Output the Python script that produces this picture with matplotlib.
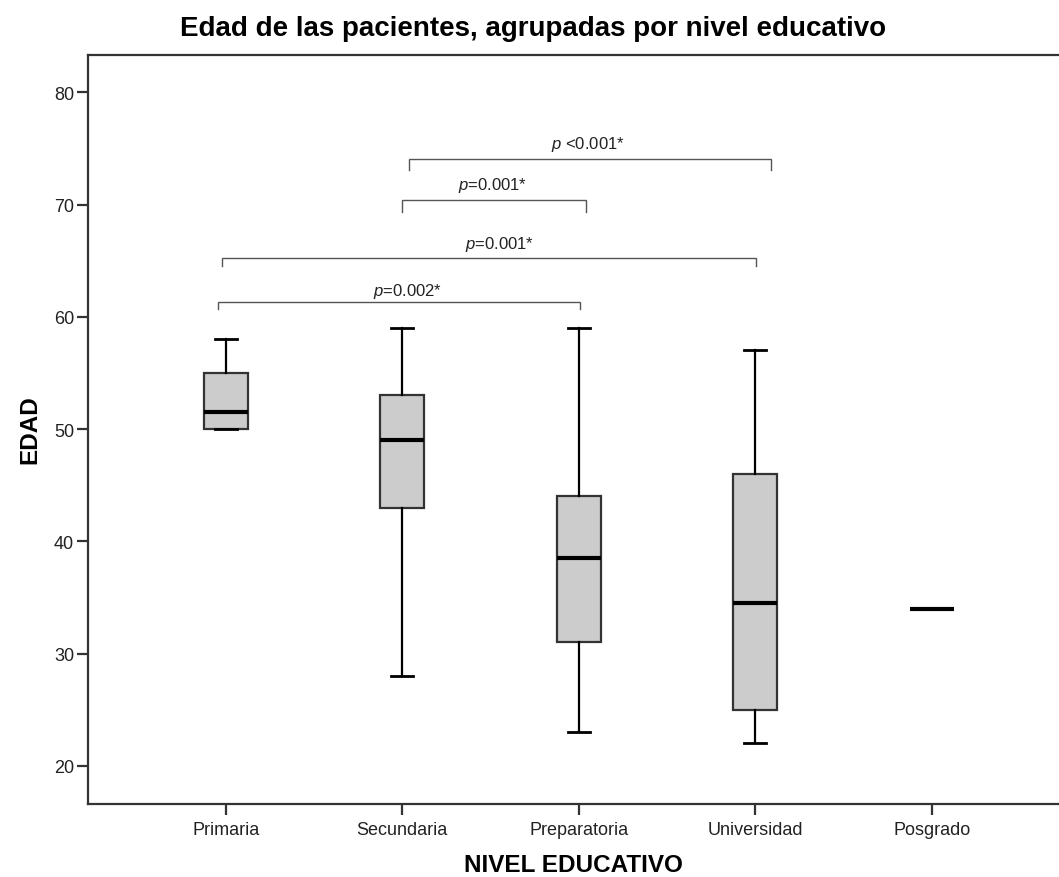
import matplotlib
matplotlib.use("Agg")
import matplotlib.pyplot as plt

# Resumen de cinco números de la edad por nivel educativo
niveles = ["Primaria", "Secundaria", "Preparatoria", "Universidad", "Posgrado"]
bigote_inf = [50, 28, 23, 22, 34]
q1 = [50, 43, 31, 25, 34]
mediana = [51.5, 49, 38.5, 34.5, 34]
q3 = [55, 53, 44, 46, 34]
bigote_sup = [58, 59, 59, 57, 34]

# Comparaciones por pares: etiqueta del valor p
etiquetas_p = [r"$p$ <0.001*", r"$p$=0.001*", r"$p$=0.001*", r"$p$=0.002*"]

plt.rcParams["font.family"] = ["Liberation Sans", "DejaVu Sans"]
plt.rcParams["mathtext.fontset"] = "custom"
plt.rcParams["mathtext.rm"] = "Liberation Sans"
plt.rcParams["mathtext.it"] = "Liberation Sans:italic"

fig = plt.figure(figsize=(10.59, 8.78), dpi=100)
ax = fig.add_axes([88 / 1059, 1 - 805 / 878, 1 - 88 / 1059, (805 - 56) / 878])

posiciones = list(range(1, len(niveles) + 1))
stats = []
for i, nombre in enumerate(niveles):
    stats.append(dict(label=nombre, whislo=bigote_inf[i], q1=q1[i], med=mediana[i],
                      q3=q3[i], whishi=bigote_sup[i], fliers=[]))

ax.bxp(stats, positions=posiciones, widths=0.25, patch_artist=True,
       showfliers=False,
       boxprops=dict(facecolor="#cccccc", edgecolor="#333333", linewidth=1.6),
       medianprops=dict(color="black", linewidth=3.0, solid_capstyle="butt"),
       whiskerprops=dict(color="black", linewidth=1.6),
       capprops=dict(color="black", linewidth=2.0),
       capwidths=0.125)

ax.set_xlim(0.22, 5.721)
ax.set_ylim(16.6, 83.32)
ax.set_yticks([20, 30, 40, 50, 60, 70, 80])
ax.set_xticks(posiciones)
ax.set_xticklabels(niveles)

for lado in ("left", "top", "bottom"):
    ax.spines[lado].set_linewidth(1.6)
    ax.spines[lado].set_color("#333333")
ax.spines["right"].set_visible(False)
ax.tick_params(axis="both", length=8, width=1.6, color="#333333",
               labelsize=13, labelcolor="#222222")
ax.tick_params(axis="y", pad=2)
ax.tick_params(axis="x", pad=4)

# Corchetes de significancia: (x inicio, x fin, altura, caída, x texto, y texto)
corchetes = [
    (2.037, 4.089, 74.06, 1.0, 3.05, 75.4),
    (2.000, 3.040, 70.40, 1.1, 2.514, 71.8),
    (0.977, 4.003, 65.20, 0.65, 2.554, 66.5),
    (0.955, 3.007, 61.33, 0.65, 2.03, 62.3),
]
for (x0, x1, y, caida, xt, yt), etiqueta in zip(corchetes, etiquetas_p):
    ax.plot([x0, x0, x1, x1], [y - caida, y, y, y - caida], color="#555555",
            linewidth=1.0, solid_joinstyle="miter")
    ax.text(xt, yt, etiqueta, ha="center", va="center", fontsize=12,
            color="#222222")

ax.set_xlabel("NIVEL EDUCATIVO", fontsize=17.5, fontweight="bold", labelpad=11)
fig.text(30 / 1059, 1 - 430 / 878, "EDAD", rotation=90, ha="center", va="center",
         fontsize=17.5, fontweight="bold")
fig.text(533 / 1059, 1 - 36 / 878, "Edad de las pacientes, agrupadas por nivel educativo",
         ha="center", va="baseline", fontsize=20, fontweight="bold")

fig.savefig("out.png", dpi=100)
